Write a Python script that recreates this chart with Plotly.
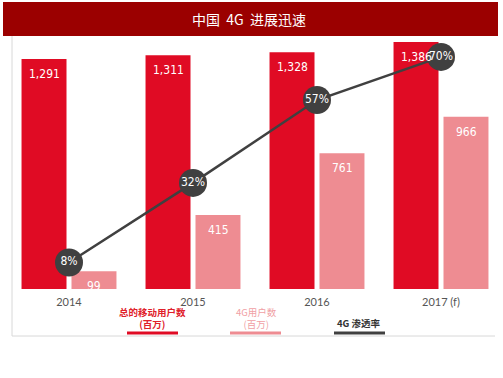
import plotly.graph_objects as go

categories = ["2014", "2015", "2016", "2017 (f)"]
total_users = [1291, 1311, 1328, 1386]
users_4g = [99, 415, 761, 966]
penetration = [8, 32, 57, 70]
total_labels = ["1,291", "1,311", "1,328", "1,386"]
g4_labels = ["99", "415", "761", "966"]
pen_labels = ["8%", "32%", "57%", "70%"]

RED = "#E00B24"
PINK = "#EE8C92"
DARK = "#404040"
NARROW = "Liberation Sans Narrow, DejaVu Sans Condensed, Arial Narrow, sans-serif"

W, H = 503, 378
ML, MR, MT, MB = 7, 0, 40, 89
PW = W - ML - MR
PH = H - MT - MB

def px(x):
    return (x - ML) / PW

def py(y):
    return (H - MB - y) / PH

fig = go.Figure()
fig.add_trace(go.Bar(x=categories, y=total_users, marker_color=RED, yaxis="y",
                     marker_line_width=0, name="总的移动用户数"))
fig.add_trace(go.Bar(x=categories, y=users_4g, marker_color=PINK, yaxis="y",
                     marker_line_width=0, name="4G用户数"))
fig.add_trace(go.Scatter(x=categories, y=penetration, yaxis="y2", mode="lines+markers+text",
                         line=dict(color=DARK, width=2.5),
                         marker=dict(size=28, color=DARK),
                         text=pen_labels, textposition="middle center",
                         textfont=dict(color="white", size=12, family=NARROW),
                         name="4G 渗透率"))

annotations = []
for i, (v, t) in enumerate(zip(total_users, total_labels)):
    annotations.append(dict(x=i, y=v, xref="x", yref="y", text=t, showarrow=False,
                            xshift=-25, yshift=-15, yanchor="middle",
                            font=dict(color="white", size=12, family=NARROW)))
for i, (v, t) in enumerate(zip(users_4g, g4_labels)):
    annotations.append(dict(x=i, y=v, xref="x", yref="y", text=t, showarrow=False,
                            xshift=25, yshift=-15, yanchor="middle",
                            font=dict(color="white", size=12, family=NARROW)))

# title
annotations.append(dict(x=px(249), y=py(19), xref="paper", yref="paper", showarrow=False,
                        text="中国  4G  进展迅速", xanchor="center", yanchor="middle",
                        font=dict(color="white", size=14, family="Noto Sans CJK SC")))
# legend texts
annotations.append(dict(x=px(152), y=py(318), xref="paper", yref="paper", showarrow=False,
                        text="<b>总的移动用户数<br>(百万)</b>", xanchor="center", yanchor="middle",
                        font=dict(color="#E0202A", size=9.5, family="Noto Sans CJK SC")))
annotations.append(dict(x=px(256), y=py(318), xref="paper", yref="paper", showarrow=False,
                        text="4G用户数<br>(百万)", xanchor="center", yanchor="middle",
                        font=dict(color="#F0A0A4", size=9.5, family="Noto Sans CJK SC")))
annotations.append(dict(x=px(359), y=py(323), xref="paper", yref="paper", showarrow=False,
                        text="<b>4G 渗透率</b>", xanchor="center", yanchor="middle",
                        font=dict(color="#333333", size=9.5, family="Noto Sans CJK SC")))

shapes = [
    dict(type="rect", xref="paper", yref="paper", x0=px(3), x1=px(498), y0=py(36), y1=py(2),
         fillcolor="#9B0000", line_width=0, layer="below"),
    dict(type="line", xref="paper", yref="paper", x0=px(12), x1=px(12), y0=py(36), y1=py(336),
         line=dict(color="#D8D8D8", width=1)),
    dict(type="line", xref="paper", yref="paper", x0=px(12), x1=px(495), y0=py(336), y1=py(336),
         line=dict(color="#D8D8D8", width=1)),
    dict(type="line", xref="paper", yref="paper", x0=px(127), x1=px(178), y0=py(333), y1=py(333),
         line=dict(color=RED, width=3)),
    dict(type="line", xref="paper", yref="paper", x0=px(230), x1=px(281), y0=py(333), y1=py(333),
         line=dict(color=PINK, width=3)),
    dict(type="line", xref="paper", yref="paper", x0=px(334), x1=px(385), y0=py(333), y1=py(333),
         line=dict(color=DARK, width=3)),
]

fig.update_layout(
    width=W, height=H,
    margin=dict(l=ML, r=MR, t=MT, b=MB, pad=0),
    paper_bgcolor="white", plot_bgcolor="white",
    barmode="group", bargap=0.194, bargroupgap=0.1,
    showlegend=False,
    hovermode=False,
    xaxis=dict(type="category", range=[-0.5, 3.5], showgrid=False, zeroline=False,
               showline=False, ticks="", ticklabelstandoff=5, fixedrange=True,
               tickfont=dict(size=11, color="#555555", family="Lato, Open Sans, sans-serif")),
    yaxis=dict(range=[0, 1397], visible=False, showgrid=False, fixedrange=True),
    yaxis2=dict(range=[0, 75.1], overlaying="y", visible=False, showgrid=False, fixedrange=True),
    annotations=annotations,
    shapes=shapes,
)

fig.write_html("out.html", config={"displayModeBar": False},
               post_script="document.body.style.margin='0';document.body.style.overflow='hidden';")
